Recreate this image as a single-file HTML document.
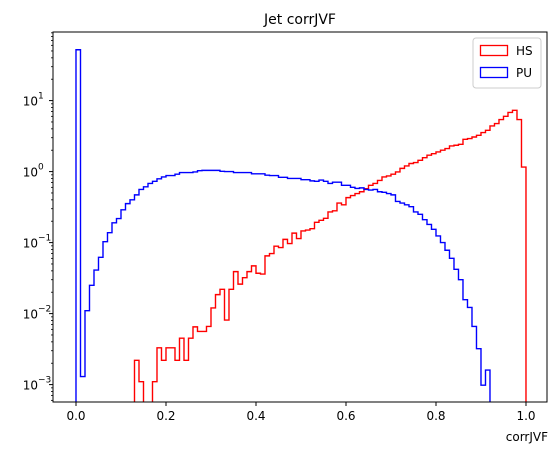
<!DOCTYPE html>
<html><head><meta charset="utf-8"><style>
body{margin:0;background:#fff;}
svg text{font-family:"DejaVu Sans","Liberation Sans",sans-serif;fill:#000;}
</style></head><body>
<svg id="chart" width="559" height="455" viewBox="0 0 559 455" xmlns="http://www.w3.org/2000/svg">
<rect width="559" height="455" fill="#fff"/>
<text x="300" y="24" font-size="14" text-anchor="middle">Jet corrJVF</text>
<g id="plot"></g>
<text x="548" y="441" font-size="12" text-anchor="end">corrJVF</text>
<g>
<rect x="473" y="38" width="68" height="50" rx="3" fill="#fff" stroke="#ccc" stroke-width="1"/>
<rect x="480.5" y="45.5" width="27" height="10" fill="none" stroke="#ff0000" stroke-width="1.3"/>
<text x="516" y="55" font-size="12">HS</text>
<rect x="480.5" y="67.5" width="27" height="10" fill="none" stroke="#0000ff" stroke-width="1.3"/>
<text x="516" y="77" font-size="12">PU</text>
</g>
</svg>
<script>
const binEdgesStart = 0.0;
const binWidth = 0.01;
const hsValues = [0,0,0,0,0,0,0,0,0,0,0,0,0,0.0022,0.0011,0,0,0.0011,0.0033,0.0022,
0.0033,0.0033,0.0022,0.0045,0.0022,0.0045,0.0065,0.0056,0.0056,0.0066,
0.012,0.0185,0.022,0.0081,0.022,0.039,0.026,0.032,0.039,0.047,
0.037,0.036,0.065,0.07,0.089,0.085,0.111,0.097,0.136,0.114,
0.146,0.15,0.157,0.193,0.206,0.22,0.27,0.28,0.36,0.34,
0.43,0.46,0.49,0.52,0.575,0.64,0.68,0.75,0.84,0.87,
0.92,0.99,1.11,1.2,1.3,1.34,1.44,1.57,1.7,1.79,
1.89,2.0,2.11,2.3,2.35,2.42,2.85,2.92,3.07,3.24,
3.54,3.82,4.39,4.74,5.4,6.0,6.8,7.3,5.4,1.16];
const puValues = [52,0.0013,0.011,0.025,0.041,0.062,0.103,0.138,0.19,0.218,
0.29,0.354,0.40,0.47,0.56,0.61,0.68,0.73,0.79,0.84,
0.88,0.88,0.92,0.97,0.97,0.97,0.99,1.03,1.04,1.04,
1.04,1.04,1.01,1.0,1.0,0.97,0.97,0.97,0.97,0.93,
0.93,0.93,0.89,0.88,0.88,0.83,0.83,0.80,0.80,0.80,
0.77,0.77,0.74,0.73,0.76,0.73,0.68,0.71,0.71,0.64,
0.64,0.60,0.58,0.59,0.56,0.55,0.56,0.52,0.51,0.49,
0.47,0.38,0.36,0.34,0.32,0.27,0.25,0.21,0.18,0.154,
0.124,0.10,0.078,0.060,0.042,0.030,0.0157,0.0122,0.0066,0.0032,
0.00098,0.0016,0,0,0,0,0,0,0,0];
const xTicks = [0.0,0.2,0.4,0.6,0.8,1.0];
const xTickLabels = ["0.0","0.2","0.4","0.6","0.8","1.0"];
const yTickExps = [-3,-2,-1,0,1];

const L=53,R=547,T=32,B=402;
const xMin=-0.0511, xMax=1.0467;
const logMin=-3.245, logMax=1.966;
function xs(v){return L+(v-xMin)/(xMax-xMin)*(R-L);}
function ys(v){ if(v<=0) return B+2; const y=B-(Math.log10(v)-logMin)/(logMax-logMin)*(B-T); return Math.min(y,B+2);}
const NS="http://www.w3.org/2000/svg";
const plot=document.getElementById('plot');
function mk(tag,attrs,parent){const e=document.createElementNS(NS,tag);for(const k in attrs)e.setAttribute(k,attrs[k]);(parent||plot).appendChild(e);return e;}
const defs=mk('defs',{});
const cp=mk('clipPath',{id:'clip'},defs);
mk('rect',{x:L,y:T,width:R-L,height:B-T},cp);

function stepPath(vals){
  let x0=xs(binEdgesStart);
  let d='M'+x0+','+(B+2);
  for(let i=0;i<vals.length;i++){
    const a=xs(binEdgesStart+i*binWidth), b=xs(binEdgesStart+(i+1)*binWidth), y=ys(vals[i]);
    d+=' L'+a+','+y+' L'+b+','+y;
  }
  d+=' L'+xs(binEdgesStart+vals.length*binWidth)+','+(B+2);
  return d;
}
const hs=mk('path',{d:stepPath(hsValues),fill:'none',stroke:'#f00','stroke-width':1.4,'clip-path':'url(#clip)'});


const pu=mk('path',{d:stepPath(puValues),fill:'none',stroke:'#00f','stroke-width':1.4,'clip-path':'url(#clip)'});



const frame=mk('rect',{x:L,y:T,width:R-L,height:B-T,fill:'none',stroke:'#000','stroke-width':1});



xTicks.forEach((t,i)=>{
  const x=xs(t);
  mk('line',{x1:x,x2:x,y1:B,y2:B+4,stroke:'#000'});
  const tx=mk('text',{x:x,y:B+18,'font-size':12,'text-anchor':'middle'});
  tx.textContent=xTickLabels[i];
  
  
});
yTickExps.forEach(e=>{
  const y=ys(Math.pow(10,e));
  mk('line',{x1:L-4,x2:L,y1:y,y2:y,stroke:'#000'});
  const tx=mk('text',{x:L-15,y:y+5,'font-size':12,'text-anchor':'end'});
  tx.textContent='10';
  
  
  const sup=mk('text',{x:L-15,y:y-2,'font-size':9,'text-anchor':'start'});
  sup.textContent=(e<0?'\u2212':'')+Math.abs(e);
  
  
});
for(let e=-4;e<=1;e++){for(let m=2;m<=9;m++){const v=m*Math.pow(10,e);const y=ys(v);if(y>T&&y<B)mk('line',{x1:L-2,x2:L,y1:y,y2:y,stroke:'#000','stroke-width':0.8});}}
</script>
</body></html>
